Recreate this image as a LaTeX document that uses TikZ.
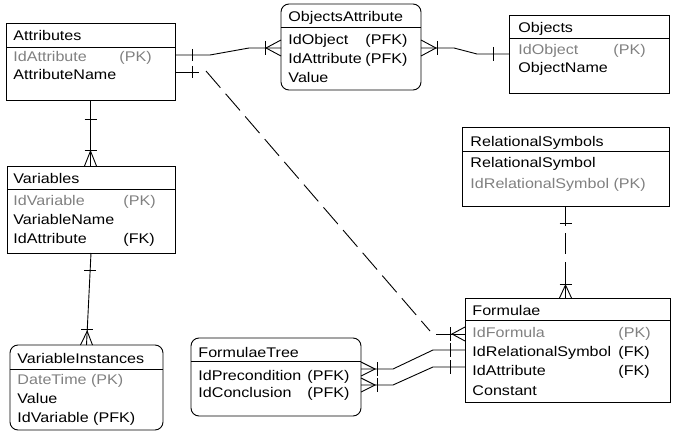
\documentclass[tikz,border=0pt]{standalone}
\usepackage{fontspec}
\setmainfont[FakeStretch=1.15]{Liberation Sans}
\usetikzlibrary{calc}
\definecolor{keygray}{RGB}{128,128,128}
\begin{document}
\begin{tikzpicture}[x=1pt,y=-1pt,
  every path/.style={line width=0.9pt},
  ebox/.style={draw, line width=0.9pt, inner sep=0pt, outer sep=0pt, anchor=north west},
  rbox/.style={ebox, rounded corners=8pt},
  txt/.style={anchor=base west, inner sep=0pt, font=\fontsize{14}{14}\selectfont},
  keytxt/.style={txt, text=keygray},
  dashline/.style={dash pattern=on 22pt off 8pt},
  lbl/.style={}]
\useasboundingbox (0,0) rectangle (675,436);

% ---------- entities ----------
% Attributes
\node[ebox, minimum width=169pt, minimum height=77pt] (attr) at (6,23) {};
\draw (attr.west |- 0,47) -- (attr.east |- 0,47);
\node[txt] (attrT) at (13,41) {Attributes};
\node[keytxt] (attrR1) at (13,62) {IdAttribute};
\node[keytxt] (attrR1k) at (119,62) {(PK)};
\node[txt] (attrR2) at (13,80) {AttributeName};

% ObjectsAttribute
\node[rbox, minimum width=140pt, minimum height=86pt] (oa) at (281,4) {};
\draw (oa.west |- 0,27) -- (oa.east |- 0,27);
\node[txt] (oaT) at (288,22) {ObjectsAttribute};
\node[txt] (oaR1) at (288,45) {IdObject};
\node[txt] (oaR1k) at (365,45) {(PFK)};
\node[txt] (oaR2) at (288,64) {IdAttribute};
\node[txt] (oaR2k) at (365,64) {(PFK)};
\node[txt] (oaR3) at (288,82) {Value};

% Objects
\node[ebox, minimum width=160pt, minimum height=78pt] (obj) at (509,15) {};
\draw (obj.west |- 0,38) -- (obj.east |- 0,38);
\node[txt] (objT) at (518,33) {Objects};
\node[keytxt] (objR1) at (518,55) {IdObject};
\node[keytxt] (objR1k) at (613,55) {(PK)};
\node[txt] (objR2) at (518,73) {ObjectName};

% Variables
\node[ebox, minimum width=168pt, minimum height=87pt] (var) at (7,166) {};
\draw (var.west |- 0,189) -- (var.east |- 0,189);
\node[txt] (varT) at (13,183) {Variables};
\node[keytxt] (varR1) at (13,205) {IdVariable};
\node[keytxt] (varR1k) at (123,205) {(PK)};
\node[txt] (varR2) at (13,224) {VariableName};
\node[txt] (varR3) at (13,243) {IdAttribute};
\node[txt] (varR3k) at (123,243) {(FK)};

% VariableInstances
\node[rbox, minimum width=153pt, minimum height=85pt] (vi) at (10,345) {};
\draw (vi.west |- 0,369) -- (vi.east |- 0,369);
\node[txt] (viT) at (17,363) {VariableInstances};
\node[keytxt] (viR1) at (17,384) {DateTime (PK)};
\node[txt] (viR2) at (17,403) {Value};
\node[txt] (viR3) at (17,422) {IdVariable (PFK)};

% FormulaeTree
\node[rbox, minimum width=170pt, minimum height=78pt] (ft) at (191,338) {};
\draw (ft.west |- 0,361) -- (ft.east |- 0,361);
\node[txt] (ftT) at (198,357) {FormulaeTree};
\node[txt] (ftR1) at (198,380) {IdPrecondition};
\node[txt] (ftR1k) at (307,380) {(PFK)};
\node[txt] (ftR2) at (198,397) {IdConclusion};
\node[txt] (ftR2k) at (307,397) {(PFK)};

% RelationalSymbols
\node[ebox, minimum width=207pt, minimum height=79pt] (rs) at (462,127) {};
\draw (rs.west |- 0,151) -- (rs.east |- 0,151);
\node[txt] (rsT) at (470,146) {RelationalSymbols};
\node[txt] (rsR1) at (470,167) {RelationalSymbol};
\node[keytxt] (rsR2) at (470,188) {IdRelationalSymbol (PK)};

% Formulae
\node[ebox, minimum width=205pt, minimum height=104pt] (form) at (465,298) {};
\draw (form.west |- 0,320) -- (form.east |- 0,320);
\node[txt] (formT) at (472,315) {Formulae};
\node[keytxt] (formR1) at (472,337) {IdFormula};
\node[keytxt] (formR1k) at (618,337) {(PK)};
\node[txt] (formR2) at (472,356) {IdRelationalSymbol};
\node[txt] (formR2k) at (618,356) {(FK)};
\node[txt] (formR3) at (472,375) {IdAttribute};
\node[txt] (formR3k) at (618,375) {(FK)};
\node[txt] (formR4) at (472,395) {Constant};

% ---------- relationships ----------
% Attributes -- ObjectsAttribute
\coordinate (c1a) at (attr.east |- 0,55);
\coordinate (c1b) at (oa.west |- 0,48);
\draw (c1a) -- ++(35,0) -- ($(c1b)+(-32,0)$) -- (c1b);
\draw ($(c1a)+(17,-6)$) -- ++(0,12);
\draw ($(c1b)+(-16,-7)$) -- ++(0,14);
\draw ($(c1b)+(0,-8)$) -- ($(c1b)+(-15,0)$) -- ($(c1b)+(0,8)$);

% ObjectsAttribute -- Objects
\coordinate (c2a) at (oa.east |- 0,48);
\coordinate (c2b) at (obj.west |- 0,54);
\draw (c2a) -- ++(33,0) -- ($(c2b)+(-32,0)$) -- (c2b);
\draw ($(c2a)+(0,-8)$) -- ($(c2a)+(15,0)$) -- ($(c2a)+(0,8)$);
\draw ($(c2a)+(16,-7)$) -- ++(0,14);
\draw ($(c2b)+(-16,-7)$) -- ++(0,14);

% Attributes -- Variables
\coordinate (c3a) at (attr.south);
\coordinate (c3b) at (var.north -| attr.south);
\draw (c3a) -- (c3b);
\draw ($(c3a)+(-6,19)$) -- ++(12,0);
\draw ($(c3b)+(-6,-16)$) -- ++(12,0);
\draw ($(c3b)+(-6,0)$) -- ($(c3b)+(0,-15)$) -- ($(c3b)+(6,0)$);

% Variables -- VariableInstances
\coordinate (c4a) at (var.south);
\coordinate (c4b) at (vi.north);
\draw (c4a) -- (c4b);
\draw ($($(c4a)!0.19!(c4b)$)+(-6,0)$) -- ++(12,0);
\draw ($($(c4a)!0.83!(c4b)$)+(-6,0)$) -- ++(12,0);
\draw ($(c4b)+(-6,0)$) -- ($(c4a)!0.85!(c4b)$) -- ($(c4b)+(6,0)$);

% Attributes -- Formulae (non-identifying)
\coordinate (c5a) at (attr.east |- 0,72);
\coordinate (c5b) at (form.west |- 0,334);
\draw (c5a) -- ++(24,0);
\draw ($(c5a)+(17,-6)$) -- ++(0,12);
\draw[dashline] ($(c5a)+(31,-1)$) -- ($(c5b)+(-35,-3)$);
\draw ($(c5b)+(-29,0)$) -- (c5b);
\draw ($(c5b)+(-15,-7)$) -- ++(0,14);
\draw ($(c5b)+(0,-7)$) -- ($(c5b)+(-13,0)$) -- ($(c5b)+(0,7)$);

% FormulaeTree -- Formulae (precondition)
\coordinate (c6a) at (ft.east |- 0,369);
\coordinate (c6b) at (form.west |- 0,350);
\draw (c6a) -- ++(32,0) -- ($(c6b)+(-32,0)$) -- (c6b);
\draw ($(c6a)+(0,-7)$) -- ($(c6a)+(14,0)$) -- ($(c6a)+(0,7)$);
\draw ($(c6a)+(16,-7)$) -- ++(0,14);
\draw ($(c6b)+(-15,-7)$) -- ++(0,14);

% FormulaeTree -- Formulae (conclusion)
\coordinate (c7a) at (ft.east |- 0,385);
\coordinate (c7b) at (form.west |- 0,367);
\draw (c7a) -- ++(32,0) -- ($(c7b)+(-32,0)$) -- (c7b);
\draw ($(c7a)+(0,-7)$) -- ($(c7a)+(14,0)$) -- ($(c7a)+(0,7)$);
\draw ($(c7a)+(16,-7)$) -- ++(0,14);
\draw ($(c7b)+(-15,-7)$) -- ++(0,14);

% RelationalSymbols -- Formulae (non-identifying)
\coordinate (c8a) at (rs.south);
\coordinate (c8b) at (form.north -| rs.south);
\draw[dash pattern=on 20pt off 7pt on 21pt off 8pt on 60pt] (c8a) -- (c8b);
\draw ($(c8a)+(-6,17)$) -- ++(12,0);
\draw ($(c8b)+(-6,-14)$) -- ++(12,0);
\draw ($(c8b)+(-6,0)$) -- ($(c8b)+(0,-13)$) -- ($(c8b)+(6,0)$);
\end{tikzpicture}
\end{document}
